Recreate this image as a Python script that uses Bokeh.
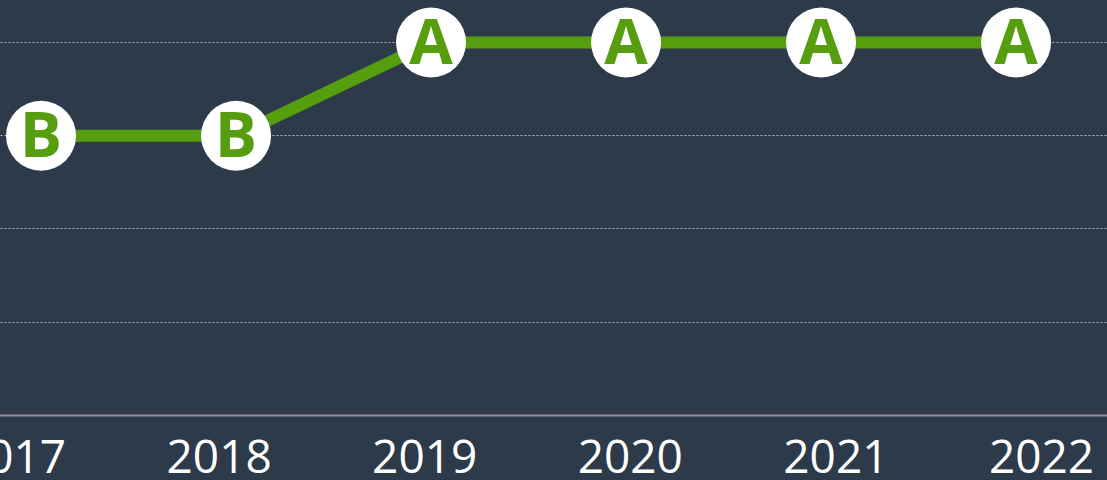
from bokeh.plotting import figure
from bokeh.models import Range1d, LinearAxis, FixedTicker, GlobalInlineStyleSheet
from bokeh.core.properties import value
from bokeh.embed import file_html
from bokeh.resources import INLINE

# ---- data ----
years = [2017, 2018, 2019, 2020, 2021, 2022]
grades = ["B", "B", "A", "A", "A", "A"]
grade_scale = ["D", "C", "B", "A"]          # plotted as 1..4
tick_labels = ["2017", "2018", "2019", "2020", "2021", "2022"]

score = [grade_scale.index(g) + 1 for g in grades]

BG = "#2c3a4a"
GREEN = "#579e0e"
SHIFT = 40  # part of the chart that lies left of the visible window

p = figure(width=1107 + SHIFT, height=480, output_backend="svg", toolbar_location=None,
           x_range=Range1d(2016.587, 2022.469), y_range=Range1d(0, 4.45),
           x_axis_location=None, y_axis_location=None,
           min_border_left=0, min_border_right=0, min_border_top=0, min_border_bottom=65,
           background_fill_color=BG, border_fill_color=BG, outline_line_color=None)

p.stylesheets = [GlobalInlineStyleSheet(
    css="html,body{padding:0;background:#2c3a4a;overflow:hidden}"
        "body{margin:0 0 0 -%dpx}" % SHIFT)]

p.xgrid.visible = False
p.ygrid.ticker = FixedTicker(ticks=[1, 2, 3, 4])
p.ygrid.grid_line_color = "#b8bcc0"
p.ygrid.grid_line_width = 1
p.ygrid.grid_line_dash = "2 2"

# year labels axis
p.extra_x_ranges = {"lab": Range1d(2016.742, 2022.321)}
ax = LinearAxis(x_range_name="lab", ticker=FixedTicker(ticks=years),
                major_label_overrides={y: t for y, t in zip(years, tick_labels)})
ax.major_tick_line_color = None
ax.minor_tick_line_color = None
ax.axis_line_color = "#939393"
ax.axis_line_width = 2
ax.major_label_text_font = "Open Sans"
ax.major_label_text_font_size = "46px"
ax.major_label_text_color = "white"
ax.major_label_standoff = 18
p.add_layout(ax, "below")

p.line(years, score, line_color=GREEN, line_width=12)
p.scatter(years, score, size=70, fill_color="white", line_color=None)
p.text(years, score, text=grades, text_font=value("Open Sans"), text_font_style="bold",
       text_font_size="63px", text_color=GREEN, text_align="center",
       text_baseline="alphabetic", y_offset=-3)

open("out.html", "w").write(file_html(p, INLINE))
